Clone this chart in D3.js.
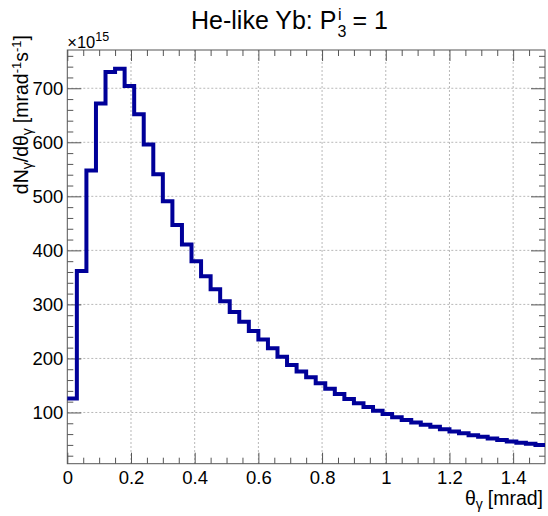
<!DOCTYPE html>
<html>
<head>
<meta charset="utf-8">
<script src="https://cdn.jsdelivr.net/npm/d3@7"></script>
<style>
  body { margin: 0; background: #fff; }
  text { font-family: "Liberation Sans", Arial, Helvetica, sans-serif; fill: #000; }
</style>
</head>
<body>
<div id="chart"></div>
<script>
// histogram: 50 bins over [0, 1.5] mrad, contents in units of 1e15
var binRange = [0, 1.5];
var counts = [126, 362, 548, 672, 730, 736, 704, 652, 596, 541,
              491, 447, 411, 380, 352, 328, 306, 286, 268, 251,
              235, 219, 203, 188, 176, 165, 154, 144, 134, 125,
              117, 110, 103, 97, 91, 86, 81.5, 77.5, 73.5, 69,
              65, 61.5, 58, 55, 52, 49, 46.5, 44, 42, 40];
var xMajorTicks = [0, 0.2, 0.4, 0.6, 0.8, 1.0, 1.2, 1.4];
var xTickLabels = ['0', '0.2', '0.4', '0.6', '0.8', '1', '1.2', '1.4'];
var yMajorTicks = [100, 200, 300, 400, 500, 600, 700];
var yTickLabels = ['100', '200', '300', '400', '500', '600', '700'];

var width = 548, height = 516;
var frame = {left: 67.3, right: 545, top: 50, bottom: 463.7};

var svg = d3.select('#chart').append('svg')
    .attr('width', width)
    .attr('height', height);

// ROOT style range: 5% margin around min/max
var cMax = d3.max(counts), cMin = d3.min(counts);
var margin = 0.05 * (cMax - cMin);

var x = d3.scaleLinear().domain(binRange).range([frame.left, frame.right]);
var y = d3.scaleLinear().domain([cMin - margin, cMax + margin]).range([frame.bottom, frame.top]);

var binWidth = (binRange[1] - binRange[0]) / counts.length;
var edges = d3.range(counts.length + 1).map(function(i){ return binRange[0] + i * binWidth; });

var xMinor = d3.range(0.05, 1.5, 0.05).filter(function(v){ return Math.abs(v / 0.2 - Math.round(v / 0.2)) > 1e-6; });
var yMinor = d3.range(20, 770, 20).filter(function(v){ return v % 100 !== 0; });

// grid
var grid = svg.append('g').attr('class', 'grid');
grid.selectAll('line.gx')
    .data(xMajorTicks.filter(function(v){ return v > 0; }))
    .enter().append('line')
        .attr('x1', function(d){ return x(d); })
        .attr('x2', function(d){ return x(d); })
        .attr('y1', frame.top)
        .attr('y2', frame.bottom)
        .attr('stroke', '#b8b8b8')
        .attr('stroke-width', 1)
        .attr('stroke-dasharray', '2,2');
grid.selectAll('line.gy')
    .data(yMajorTicks)
    .enter().append('line')
        .attr('x1', frame.left)
        .attr('x2', frame.right)
        .attr('y1', function(d){ return y(d); })
        .attr('y2', function(d){ return y(d); })
        .attr('stroke', '#b8b8b8')
        .attr('stroke-width', 1)
        .attr('stroke-dasharray', '2,2');

// axes, ticks on all four sides
function styleAxis(g){
    g.select('.domain').remove();
    g.selectAll('.tick line').attr('stroke', '#555');
    g.selectAll('.tick text')
        .attr('font-size', '18.5px')
        .attr('font-family', '"Liberation Sans", Arial, Helvetica, sans-serif')
        .attr('fill', '#000');
}

svg.append('g')
    .attr('transform', 'translate(0,' + frame.bottom + ')')
    .call(d3.axisTop(x).tickValues(xMajorTicks).tickSize(11).tickFormat(''))
    .call(styleAxis);
svg.append('g')
    .attr('transform', 'translate(0,' + frame.bottom + ')')
    .call(d3.axisTop(x).tickValues(xMinor).tickSize(6).tickFormat(''))
    .call(styleAxis);
svg.append('g')
    .attr('transform', 'translate(0,' + frame.bottom + ')')
    .call(d3.axisBottom(x).tickValues(xMajorTicks).tickSize(0).tickPadding(7)
        .tickFormat(function(d, i){ return xTickLabels[i]; }))
    .call(styleAxis);
svg.append('g')
    .attr('transform', 'translate(0,' + frame.top + ')')
    .call(d3.axisBottom(x).tickValues(xMajorTicks).tickSize(11).tickFormat(''))
    .call(styleAxis);
svg.append('g')
    .attr('transform', 'translate(0,' + frame.top + ')')
    .call(d3.axisBottom(x).tickValues(xMinor).tickSize(6).tickFormat(''))
    .call(styleAxis);

svg.append('g')
    .attr('transform', 'translate(' + frame.left + ',0)')
    .call(d3.axisRight(y).tickValues(yMajorTicks).tickSize(14).tickFormat(''))
    .call(styleAxis);
svg.append('g')
    .attr('transform', 'translate(' + frame.left + ',0)')
    .call(d3.axisRight(y).tickValues(yMinor).tickSize(6).tickFormat(''))
    .call(styleAxis);
svg.append('g')
    .attr('transform', 'translate(' + frame.left + ',0)')
    .call(d3.axisLeft(y).tickValues(yMajorTicks).tickSize(0).tickPadding(4)
        .tickFormat(function(d, i){ return yTickLabels[i]; }))
    .call(styleAxis);
svg.append('g')
    .attr('transform', 'translate(' + frame.right + ',0)')
    .call(d3.axisLeft(y).tickValues(yMajorTicks).tickSize(14).tickFormat(''))
    .call(styleAxis);
svg.append('g')
    .attr('transform', 'translate(' + frame.right + ',0)')
    .call(d3.axisLeft(y).tickValues(yMinor).tickSize(6).tickFormat(''))
    .call(styleAxis);

// frame
svg.append('rect')
    .attr('x', frame.left)
    .attr('y', frame.top)
    .attr('width', frame.right - frame.left)
    .attr('height', frame.bottom - frame.top)
    .attr('fill', 'none')
    .attr('stroke', '#555')
    .attr('stroke-width', 1);

// histogram outline
var stepPts = counts.map(function(c, i){ return [edges[i], c]; });
stepPts.push([edges[counts.length], counts[counts.length - 1]]);
svg.append('path')
    .datum(stepPts)
    .attr('d', d3.line()
        .x(function(d){ return x(d[0]); })
        .y(function(d){ return y(d[1]); })
        .curve(d3.curveStepAfter))
    .attr('fill', 'none')
    .attr('stroke', '#000099')
    .attr('stroke-width', 4)
    .attr('stroke-linejoin', 'miter');

// exponent label
var expo = svg.append('text')
    .attr('x', frame.left)
    .attr('y', 48)
    .attr('font-size', '16.5px');
expo.append('tspan').text('\u00d710');
expo.append('tspan').attr('font-size', '12.5px').attr('dy', -7).text('15');

// x axis title
var xt = svg.append('text')
    .attr('x', 543)
    .attr('y', 505)
    .attr('font-size', '19.5px')
    .attr('text-anchor', 'end');
xt.append('tspan').text('\u03b8');
xt.append('tspan').attr('font-size', '14px').attr('dy', 4).text('\u03b3');
xt.append('tspan').attr('dy', -4).attr('dx', 5).text('[mrad]');

// y axis title
var yt = svg.append('text')
    .attr('transform', 'translate(28,35) rotate(-90)')
    .attr('font-size', '19.5px')
    .attr('text-anchor', 'end');
yt.append('tspan').text('dN');
yt.append('tspan').attr('font-size', '14px').attr('dy', 4).text('\u03b3');
yt.append('tspan').attr('dy', -4).text('/d\u03b8');
yt.append('tspan').attr('font-size', '14px').attr('dy', 4).text('\u03b3');
yt.append('tspan').attr('dy', -4).attr('dx', 5).text('[mrad');
yt.append('tspan').attr('font-size', '13px').attr('dy', -7).text('-1');
yt.append('tspan').attr('dy', 7).text('s');
yt.append('tspan').attr('font-size', '13px').attr('dy', -7).text('-1');
yt.append('tspan').attr('dy', 7).text(']');

// title with stacked sup/sub
var titleX = 191, titleY = 29;
var t1 = svg.append('text')
    .attr('x', titleX)
    .attr('y', titleY)
    .attr('font-size', '25px')
    .text('He-like Yb: P');
var w1 = t1.node().getComputedTextLength();
svg.append('text')
    .attr('x', titleX + w1 + 1.5)
    .attr('y', titleY - 9)
    .attr('font-size', '16px')
    .text('i');
svg.append('text')
    .attr('x', titleX + w1 + 1)
    .attr('y', titleY + 8)
    .attr('font-size', '16px')
    .text('3');
svg.append('text')
    .attr('x', titleX + w1 + 16)
    .attr('y', titleY)
    .attr('font-size', '25px')
    .text('= 1');
</script>
</body>
</html>
